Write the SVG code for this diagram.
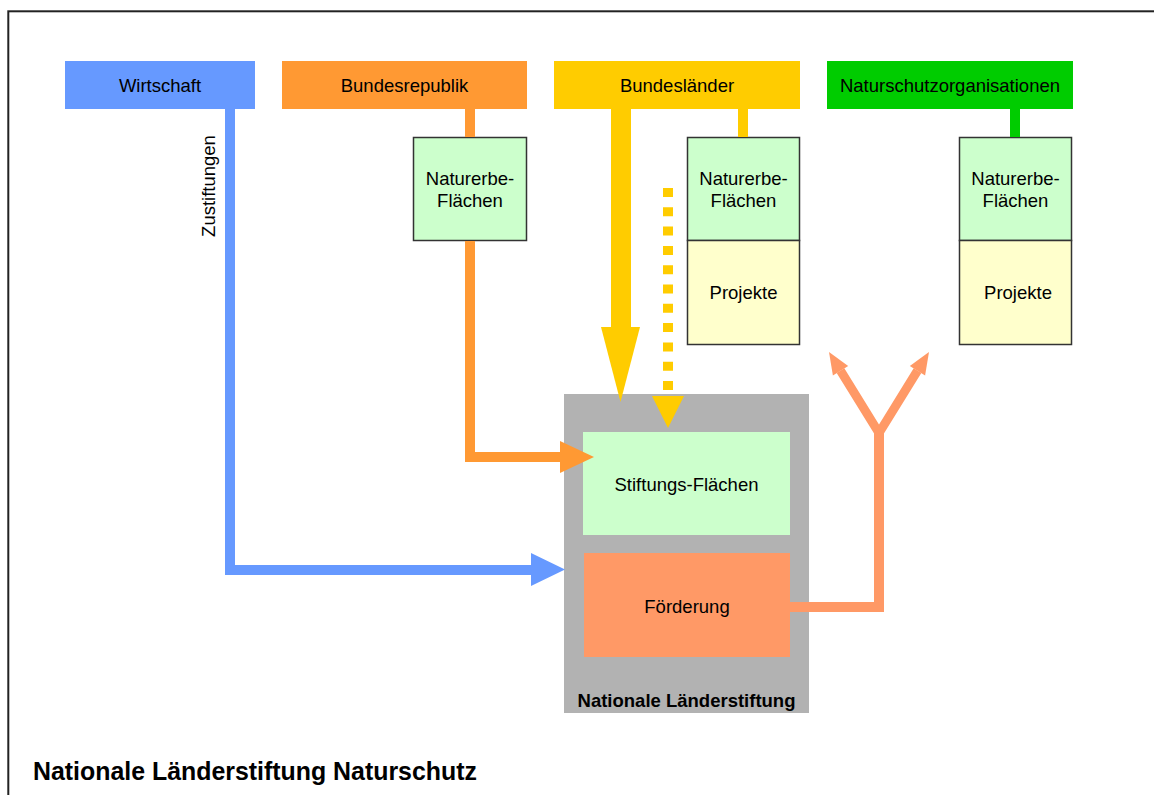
<svg xmlns="http://www.w3.org/2000/svg" width="1154" height="795" viewBox="0 0 1154 795">
<style>
  text { font-family: "Liberation Sans", Arial, sans-serif; fill: #000; }
  .lbl { font-size: 18.5px; text-anchor: middle; }
  .bold { font-weight: bold; }
  .field { fill: #CCFFCC; stroke: #333; stroke-width: 1.5; }
  .proj { fill: #FFFFCC; stroke: #333; stroke-width: 1.5; }
  .ln { fill: none; stroke-linejoin: miter; stroke-linecap: butt; }
</style>
<rect x="0" y="0" width="1154" height="795" fill="#fff"/>
<rect id="frame" x="8.3" y="11.3" width="1300" height="1000" fill="none" stroke="#222" stroke-width="2"/>

<g id="wirtschaft">
  <rect x="65" y="61" width="190" height="48" fill="#6699FF"/>
  <text class="lbl" x="160" y="92">Wirtschaft</text>
</g>
<g id="bundesrepublik">
  <rect x="282" y="61" width="245" height="48" fill="#FF9933"/>
  <text class="lbl" x="404.5" y="92">Bundesrepublik</text>
</g>
<g id="bundeslaender">
  <rect x="554" y="61" width="246" height="48" fill="#FFCC00"/>
  <text class="lbl" x="677" y="92">Bundesländer</text>
</g>
<g id="naturschutzorganisationen">
  <rect x="827" y="61" width="246" height="48" fill="#00CC00"/>
  <text class="lbl" x="950" y="92">Naturschutzorganisationen</text>
</g>

<g id="naturerbe-bund">
  <rect class="field" x="413.5" y="137.5" width="113" height="103"/>
  <text class="lbl" x="470" y="185">Naturerbe-</text>
  <text class="lbl" x="470" y="207">Flächen</text>
</g>
<g id="naturerbe-laender">
  <rect class="field" x="687.5" y="137.5" width="112" height="103"/>
  <text class="lbl" x="743.5" y="185">Naturerbe-</text>
  <text class="lbl" x="743.5" y="207">Flächen</text>
</g>
<g id="projekte-laender">
  <rect class="proj" x="687.5" y="240.5" width="112" height="104"/>
  <text class="lbl" x="743.5" y="299">Projekte</text>
</g>
<g id="naturerbe-verbaende">
  <rect class="field" x="959.5" y="137.5" width="112" height="103"/>
  <text class="lbl" x="1015.5" y="185">Naturerbe-</text>
  <text class="lbl" x="1015.5" y="207">Flächen</text>
</g>
<g id="projekte-verbaende">
  <rect class="proj" x="959.5" y="240.5" width="112" height="104"/>
  <text class="lbl" x="1018" y="299">Projekte</text>
</g>

<g id="nationale-laenderstiftung">
  <rect x="564" y="394" width="245" height="319" fill="#B2B2B2"/>
  <text class="bold" x="686.5" y="707" font-size="18.5" text-anchor="middle">Nationale Länderstiftung</text>
</g>
<g id="stiftungs-flaechen">
  <rect x="583" y="432" width="207" height="103" fill="#CCFFCC"/>
  <text class="lbl" x="686.5" y="491">Stiftungs-Flächen</text>
</g>
<g id="foerderung">
  <rect x="584" y="553" width="206" height="104" fill="#FF9966"/>
  <text class="lbl" x="687" y="613">Förderung</text>
</g>

<g id="connectors">
  <!-- Wirtschaft: Zustiftungen -->
  <path class="ln" d="M230,109 V570 H532" stroke="#6699FF" stroke-width="10"/>
  <polygon points="531,553 531,586 565,569.5" fill="#6699FF"/>
  <text class="lbl" transform="translate(215,186) rotate(-90)" x="0" y="0">Zustiftungen</text>

  <!-- Bundesrepublik -->
  <path class="ln" d="M470,109 V137" stroke="#FF9933" stroke-width="10"/>
  <path class="ln" d="M470,241 V457 H561" stroke="#FF9933" stroke-width="10"/>
  <polygon points="560,441 560,473 594,457" fill="#FF9933"/>

  <!-- Bundeslaender -->
  <path class="ln" d="M621,109 V328" stroke="#FFCC00" stroke-width="20"/>
  <polygon points="601,327 640,327 620.5,402" fill="#FFCC00"/>
  <path class="ln" d="M668,188 V390" stroke="#FFCC00" stroke-width="10" stroke-dasharray="9 10.3"/>
  <polygon points="652,396 684,396 668,428" fill="#FFCC00"/>
  <path class="ln" d="M743,109 V137" stroke="#FFCC00" stroke-width="10"/>

  <!-- Naturschutzorganisationen -->
  <path class="ln" d="M1015,109 V137" stroke="#00CC00" stroke-width="10"/>

  <!-- Foerderung -->
  <path class="ln" d="M790,607 H879 V433" stroke="#FF9966" stroke-width="10"/>
  <path class="ln" d="M840.5,370.7 L879,433 L917.5,370.7" stroke="#FF9966" stroke-width="9"/>
  <polygon points="829,352 832.9,375.4 848.2,366" fill="#FF9966"/>
  <polygon points="929,352 925.1,375.4 909.8,366" fill="#FF9966"/>
</g>

<text id="title" class="bold" x="33" y="780" font-size="24.9">Nationale Länderstiftung Naturschutz</text>
</svg>
